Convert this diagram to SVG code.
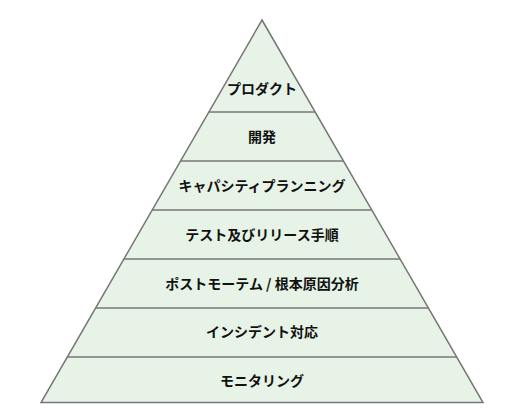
<svg xmlns="http://www.w3.org/2000/svg" width="512" height="414" viewBox="0 0 512 414">
<style>
.shape{fill:#e6f3e6;stroke:#777777;stroke-width:1.5;stroke-linejoin:miter}
.div{stroke:#777777;stroke-width:1.5;fill:none}
.lbl{font-family:"Noto Sans CJK JP","Noto Sans",sans-serif;font-size:14px;font-weight:bold;fill:#111111;text-anchor:middle;dominant-baseline:central}
</style>
<rect width="512" height="414" fill="#ffffff"/>
<g id="pyramid">
<polygon class="shape" points="262,20 483,402.5 41,402.5"/>
</g>
<g id="connectors">
<line class="div" x1="208.8" y1="112" x2="315.2" y2="112"/>
<line class="div" x1="180.5" y1="161" x2="343.5" y2="161"/>
<line class="div" x1="152.2" y1="210" x2="371.8" y2="210"/>
<line class="div" x1="123.9" y1="259" x2="400.1" y2="259"/>
<line class="div" x1="95.6" y1="308" x2="428.4" y2="308"/>
<line class="div" x1="67.3" y1="357" x2="456.7" y2="357"/>
</g>
<g id="level1"><text class="lbl" x="262" y="87.5">プロダクト</text></g>
<g id="level2"><text class="lbl" x="262" y="136">開発</text></g>
<g id="level3"><text class="lbl" x="262" y="185">キャパシティプランニング</text></g>
<g id="level4"><text class="lbl" x="262" y="234">テスト及びリリース手順</text></g>
<g id="level5"><text class="lbl" x="262" y="282.5">ポストモーテム / 根本原因分析</text></g>
<g id="level6"><text class="lbl" x="262" y="331">インシデント対応</text></g>
<g id="level7"><text class="lbl" x="262" y="380">モニタリング</text></g>
</svg>
